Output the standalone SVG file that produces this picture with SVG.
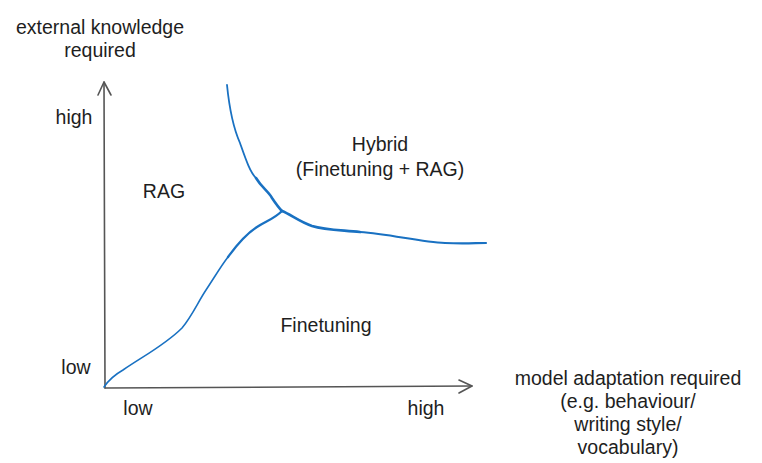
<svg xmlns="http://www.w3.org/2000/svg" width="762" height="463" viewBox="0 0 762 463">
<style>
text{font-family:"Liberation Sans",Arial,sans-serif;font-size:19.5px;fill:#1e1e1e;text-anchor:middle}
.axis{fill:none;stroke:#555;stroke-width:1.6;stroke-linecap:round;stroke-linejoin:round}
.curve{fill:none;stroke:#1971c2;stroke-linecap:round;stroke-linejoin:round}
</style>
<rect width="762" height="463" fill="#fff"/>
<g id="axes">
<path class="axis" d="M105 388 L104 82"/>
<path class="axis" d="M98 95 L104 82 L111 95"/>
<path class="axis" d="M105 388 L472 386"/>
<path class="axis" d="M459 380 L472 386 L459 393"/>
</g>
<g id="y-title"><text x="100" y="34">external knowledge</text><text x="100" y="57">required</text></g>
<g id="y-high"><text x="74" y="124">high</text></g>
<g id="y-low"><text x="76" y="374">low</text></g>
<g id="x-low"><text x="138" y="415">low</text></g>
<g id="x-high"><text x="426" y="415">high</text></g>
<g id="x-title">
<text x="628" y="385">model adaptation required</text>
<text x="628" y="408">(e.g. behaviour/</text>
<text x="628" y="431">writing style/</text>
<text x="628" y="454">vocabulary)</text>
</g>
<g id="rag"><text x="164" y="198">RAG</text></g>
<g id="hybrid"><text x="380" y="151">Hybrid</text><text x="380" y="176">(Finetuning + RAG)</text></g>
<g id="finetuning"><text x="326" y="332">Finetuning</text></g>
<g id="connectors">
<path class="curve" stroke-width="1.6" d="M104 387 C110 378 116 374 123 370 C145 355 165 345 182 328 C192 316 198 302 206 290 C214 278 221 266 228 257"/>
<path class="curve" stroke-width="2.3" d="M228 257 C236 246 246 234 257 227 C266 221 274 219 282 211"/>
<path class="curve" stroke-width="1.8" d="M227 85 C229 105 232 125 240 143 C246 160 250 172 256 178"/>
<path class="curve" stroke-width="2.6" d="M256 178 C262 188 268 191 272 198 C276 204 279 208 282 211"/>
<path class="curve" stroke-width="2.6" d="M282 211 C290 214 300 222 312 226 C325 230 340 230 360 232"/>
<path class="curve" stroke-width="2.2" d="M360 232 C390 234 420 242 445 243 C465 244 475 243 486 243"/>
</g>
</svg>
